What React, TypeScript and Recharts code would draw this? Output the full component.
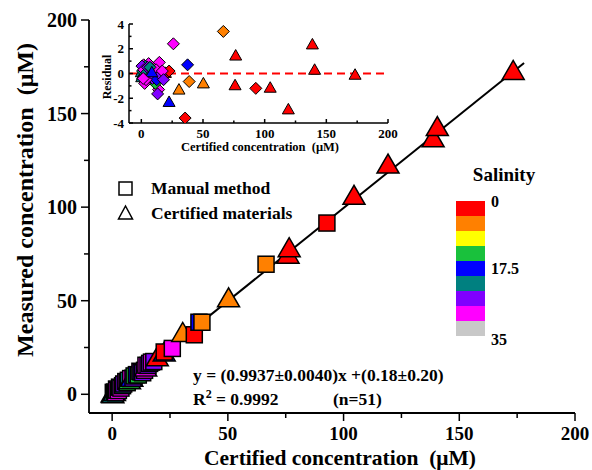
import React from "react";
import {
  ScatterChart,
  Scatter,
  XAxis,
  YAxis,
  ReferenceLine,
} from "recharts";

// salinity classes, 0 -> 35
const SALINITY_COLORS = [
  "#FF0000", "#FF8000", "#FFFF00", "#19C13C", "#0000FF",
  "#008080", "#8000FF", "#FF00FF", "#C8C8C8",
];
const SALINITY_TICKS = ["0", "17.5", "35"];

// C = certified materials (triangle), M = manual method (square / diamond)
const method = [
  "C", "C", "C", "C", "C", "C", "C", "C", "C", "C", "C", "C", "C", "C", "C", "C",
  "M", "M", "M", "M", "M", "M", "M", "M", "M", "M", "M", "M", "M", "M", "M", "M", "M", "M",
  "M", "M", "M", "M", "M", "M", "M", "M", "M", "M", "M", "M", "M", "M", "M",
  "C", "M",
];
const certified = [
  173.3, 140.5, 138.7, 119.2, 104.5, 76.5, 76.0, 50.3, 30.5, 22.5, 19.5, 14.5, 7.5, 0.0, 1.0, 0.3,
  92.8, 66.5, 38.8, 37.5, 35.5, 26.0, 22.5, 16.2, 14.6, 14.0, 13.2, 11.3, 10.5, 5.9, 2.7, 1.9, 3.2, 1.0,
  0.5, 2.0, 4.5, 5.0, 6.5, 8.0, 9.0, 9.5, 12.0, 12.5, 15.5, 17.0, 18.0, 3.8, 7.0,
  8.5, 1.5,
];
const measured = [
  172.5, 142.5, 136.5, 122.5, 105.8, 77.8, 74.3, 51.0, 32.5, 22.0, 19.5, 14.0, 7.2, 0.2, 1.0, -0.3,
  91.5, 69.5, 38.5, 38.5, 31.8, 24.5, 22.6, 16.5, 15.5, 12.8, 11.5, 10.3, 10.5, 6.8, 2.0, 2.8, 3.8, 1.2,
  1.0, 2.2, 4.6, 5.5, 6.2, 8.4, 8.6, 9.8, 12.3, 11.9, 15.4, 17.2, 17.5, 3.3, 7.5,
  8.6, 0.8,
];
const residual = [
  -0.1, 0.3, 2.35, -2.9, -1.15, 1.45, -0.95, -0.8, -1.3, -2.3, 0.05, -0.45, -0.2, 0.1, -0.1, -0.3,
  -1.2, 3.4, -0.65, 0.7, -3.6, 2.4, 0.2, 0.2, 0.9, -1.3, -1.65, -0.8, 0.0, 0.8, -0.8, 0.7, 0.6, 0.2,
  0.6, 0.3, 0.1, 0.5, -0.3, 0.4, -0.4, 0.3, 0.3, -0.5, -0.1, 0.2, -0.5, -0.5, 0.5,
  0.1, -0.4,
];
const salinityClass = [
  0, 0, 0, 0, 0, 0, 0, 1, 1, 4, 0, 7, 3, 5, 5, 5,
  0, 1, 1, 4, 0, 7, 0, 6, 7, 7, 6, 3, 4, 7, 7, 7, 5, 5,
  6, 7, 5, 6, 3, 7, 6, 3, 7, 4, 6, 7, 6, 7, 5,
  4, 7,
];

const SLOPE = 0.9937;
const INTERCEPT = 0.18;
const FIT_RANGE = [-2, 178];

const MAIN_TICKS = [0, 25, 50, 75, 100, 125, 150, 175, 200];
const MAIN_LABELS = [0, 50, 100, 150, 200];
const INSET_X_TICKS = [0, 25, 50, 75, 100, 125, 150, 175, 200];
const INSET_X_LABELS = [0, 50, 100, 150, 200];
const INSET_Y_TICKS = [-4, -3, -2, -1, 0, 1, 2, 3, 4];
const INSET_Y_LABELS = [-4, -2, 0, 2, 4];

const FONT = "'Liberation Serif', 'Times New Roman', serif";

const points = certified.map((x, i) => ({
  x,
  y: measured[i],
  r: residual[i],
  method: method[i],
  color: SALINITY_COLORS[salinityClass[i]],
}));
const mainOrder = [...points].sort((a, b) => a.x - b.x);

const fitLine = FIT_RANGE.map((x) => ({ x, y: SLOPE * x + INTERCEPT }));

function MainMarker(p: any) {
  const { cx, cy, payload } = p;
  if (cx == null || cy == null) return null;
  if (payload.method === "M") {
    return <rect x={cx - 8} y={cy - 8} width={16} height={16} fill={payload.color} stroke="#000" strokeWidth={1.5} />;
  }
  return (
    <polygon
      points={`${cx},${cy - 11} ${cx - 11},${cy + 8} ${cx + 11},${cy + 8}`}
      fill={payload.color}
      stroke="#000"
      strokeWidth={1.5}
    />
  );
}

function InsetMarker(p: any) {
  const { cx, cy, payload } = p;
  if (cx == null || cy == null) return null;
  if (payload.method === "M") {
    return (
      <polygon
        points={`${cx},${cy - 6} ${cx + 6},${cy} ${cx},${cy + 6} ${cx - 6},${cy}`}
        fill={payload.color}
        stroke="#000"
        strokeWidth={1}
      />
    );
  }
  return (
    <polygon
      points={`${cx},${cy - 6} ${cx - 6},${cy + 4.5} ${cx + 6},${cy + 4.5}`}
      fill={payload.color}
      stroke="#000"
      strokeWidth={1}
    />
  );
}

type TickCfg = {
  orient: "left" | "bottom" | "top" | "right";
  labels: number[];
  major: number;
  minor: number;
  inward: boolean;
  fontSize: number;
  offset: number;
  show: boolean;
};

function AxisTick(props: any) {
  const { x, y, payload, cfg } = props as { x: number; y: number; payload: any; cfg: TickCfg };
  const v = payload.value;
  const isMajor = cfg.labels.includes(v);
  const len = isMajor ? cfg.major : cfg.minor;
  let line;
  let label = null;
  if (cfg.orient === "left") {
    const d = cfg.inward ? len : -len;
    line = <line x1={x} y1={y} x2={x + d} y2={y} stroke="#000" strokeWidth={1.5} />;
    if (cfg.show && isMajor)
      label = (
        <text x={x - cfg.offset} y={y} dy="0.35em" textAnchor="end" fontSize={cfg.fontSize} fontWeight="bold" fontFamily={FONT} fill="#000">
          {v}
        </text>
      );
  } else if (cfg.orient === "bottom") {
    const d = cfg.inward ? -len : len;
    line = <line x1={x} y1={y} x2={x} y2={y + d} stroke="#000" strokeWidth={1.5} />;
    if (cfg.show && isMajor)
      label = (
        <text x={x} y={y + cfg.offset} textAnchor="middle" fontSize={cfg.fontSize} fontWeight="bold" fontFamily={FONT} fill="#000">
          {v}
        </text>
      );
  } else if (cfg.orient === "top") {
    line = <line x1={x} y1={y} x2={x} y2={y + len} stroke="#000" strokeWidth={1.5} />;
  } else {
    line = <line x1={x} y1={y} x2={x - len} y2={y} stroke="#000" strokeWidth={1.5} />;
  }
  return (
    <g>
      {line}
      {label}
    </g>
  );
}

const tickOf = (cfg: TickCfg) => (p: any) => <AxisTick {...p} cfg={cfg} />;

function MainChart() {
  return (
    <ScatterChart width={592} height={470} margin={{ top: 20, right: 17, bottom: 0, left: 0 }}>
      <XAxis
        type="number"
        dataKey="x"
        domain={[-10, 200]}
        ticks={MAIN_TICKS}
        allowDataOverflow
        height={57}
        tickSize={0}
        tickMargin={0}
        tickLine={false}
        axisLine={{ stroke: "#000", strokeWidth: 1.8 }}
        interval={0}
        tick={tickOf({ orient: "bottom", labels: MAIN_LABELS, major: 8, minor: 5, inward: false, fontSize: 19, offset: 27, show: true })}
      />
      <YAxis
        type="number"
        dataKey="y"
        domain={[-10, 200]}
        ticks={MAIN_TICKS}
        allowDataOverflow
        width={89}
        tickSize={0}
        tickMargin={0}
        tickLine={false}
        axisLine={{ stroke: "#000", strokeWidth: 1.8 }}
        interval={0}
        tick={tickOf({ orient: "left", labels: MAIN_LABELS, major: 8, minor: 5, inward: false, fontSize: 20, offset: 12, show: true })}
      />
      <ReferenceLine
        segment={fitLine}
        stroke="#000"
        strokeWidth={2}
        ifOverflow="visible"
      />
      <Scatter data={mainOrder} shape={MainMarker} isAnimationActive={false} />
    </ScatterChart>
  );
}

function InsetChart() {
  return (
    <ScatterChart width={305} height={160} margin={{ top: 24, right: 12, bottom: 0, left: 0 }}>
      <XAxis
        type="number"
        dataKey="x"
        domain={[-10, 200]}
        ticks={INSET_X_TICKS}
        allowDataOverflow
        height={37}
        tickSize={0}
        tickMargin={0}
        tickLine={false}
        axisLine={{ stroke: "#000", strokeWidth: 1.5 }}
        interval={0}
        tick={tickOf({ orient: "bottom", labels: INSET_X_LABELS, major: 4, minor: 2.5, inward: true, fontSize: 13, offset: 15, show: true })}
      />
      <XAxis
        xAxisId="top"
        orientation="top"
        type="number"
        domain={[-10, 200]}
        ticks={INSET_X_TICKS}
        allowDataOverflow
        height={0}
        tickSize={0}
        tickMargin={0}
        tickLine={false}
        axisLine={{ stroke: "#000", strokeWidth: 1.5 }}
        interval={0}
        tick={tickOf({ orient: "top", labels: INSET_X_LABELS, major: 4, minor: 2.5, inward: true, fontSize: 12, offset: 0, show: false })}
      />
      <YAxis
        type="number"
        dataKey="r"
        domain={[-4, 4]}
        ticks={INSET_Y_TICKS}
        allowDataOverflow
        width={34}
        tickSize={0}
        tickMargin={0}
        tickLine={false}
        axisLine={{ stroke: "#000", strokeWidth: 1.5 }}
        interval={0}
        tick={tickOf({ orient: "left", labels: INSET_Y_LABELS, major: 4, minor: 2.5, inward: true, fontSize: 13, offset: 5, show: true })}
      />
      <YAxis
        yAxisId="right"
        orientation="right"
        type="number"
        domain={[-4, 4]}
        ticks={INSET_Y_TICKS}
        allowDataOverflow
        width={0}
        tickSize={0}
        tickMargin={0}
        tickLine={false}
        axisLine={{ stroke: "#000", strokeWidth: 1.5 }}
        interval={0}
        tick={tickOf({ orient: "right", labels: INSET_Y_LABELS, major: 4, minor: 2.5, inward: true, fontSize: 12, offset: 0, show: false })}
      />
      <ReferenceLine y={0} stroke="#FF0000" strokeWidth={2} strokeDasharray="8 5" />
      <Scatter data={points} shape={InsetMarker} isAnimationActive={false} />
    </ScatterChart>
  );
}

function Annotations() {
  const boxTop = 201;
  const boxH = 15;
  return (
    <svg width={592} height={470} style={{ position: "absolute", left: 0, top: 0, pointerEvents: "none" }} fontFamily={FONT}>
      {/* axis titles */}
      <text x={340} y={465} textAnchor="middle" fontSize={21.5} fontWeight="bold">
        {"Certified concentration \u00A0(μM)"}
      </text>
      <text transform="translate(33,200) rotate(-90)" textAnchor="middle" fontSize={24} fontWeight="bold">
        {"Measured concentration \u00A0(μM)"}
      </text>
      {/* inset titles */}
      <text x={260} y={151} textAnchor="middle" fontSize={12.5} fontWeight="bold">
        {"Certified concentration \u00A0(μM)"}
      </text>
      <text transform="translate(111,77) rotate(-90)" textAnchor="middle" fontSize={12} fontWeight="bold">
        Residual
      </text>
      {/* shape legend */}
      <rect x={119} y={182} width={13} height={13} fill="none" stroke="#000" strokeWidth={1.5} />
      <polygon points="125.5,206 118.5,219 132.5,219" fill="none" stroke="#000" strokeWidth={1.5} />
      <text x={151} y={194} fontSize={17.5} fontWeight="bold">Manual method</text>
      <text x={151} y={219} fontSize={17.5} fontWeight="bold">Certified materials</text>
      {/* salinity colour bar */}
      <text x={504} y={181} textAnchor="middle" fontSize={19} fontWeight="bold">Salinity</text>
      {SALINITY_COLORS.map((c, i) => (
        <rect key={c} x={456} y={boxTop + i * boxH} width={29} height={boxH} fill={c} />
      ))}
      <text x={491} y={boxTop} dy="0.35em" fontSize={16} fontWeight="bold">{SALINITY_TICKS[0]}</text>
      <text x={491} y={boxTop + 4.5 * boxH} dy="0.35em" fontSize={16} fontWeight="bold">{SALINITY_TICKS[1]}</text>
      <text x={491} y={boxTop + 9 * boxH + 3} dy="0.35em" fontSize={16} fontWeight="bold">{SALINITY_TICKS[2]}</text>
      {/* fit equation */}
      <text x={193} y={381} fontSize={17.5} fontWeight="bold">
        {"y = (0.9937±0.0040)x +(0.18±0.20)"}
      </text>
      <text x={193} y={405} fontSize={17.5} fontWeight="bold">
        R<tspan dy={-7} fontSize={12}>2</tspan>
        <tspan dy={7}>{" = 0.9992"}</tspan>
      </text>
      <text x={333} y={405} fontSize={17.5} fontWeight="bold">(n=51)</text>
    </svg>
  );
}

export default function App() {
  return (
    <div style={{ position: "absolute", left: 0, top: 0, width: 592, height: 470, background: "#fff", fontFamily: FONT }}>
      <div style={{ position: "absolute", left: 0, top: 0 }}>
        <MainChart />
      </div>
      <div style={{ position: "absolute", left: 95, top: 0 }}>
        <InsetChart />
      </div>
      <Annotations />
    </div>
  );
}
